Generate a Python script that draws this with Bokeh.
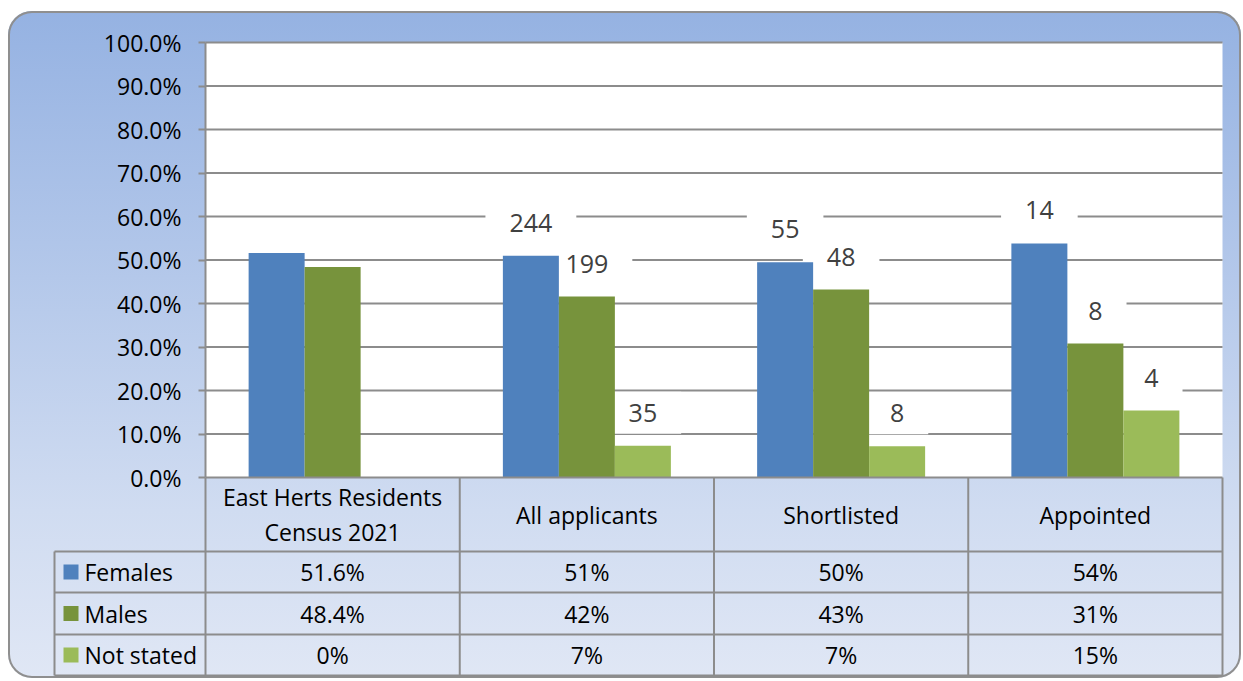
from bokeh.plotting import figure
from bokeh.models import Range1d, LinearAxis, FixedTicker, PrintfTickFormatter
from bokeh.core.properties import value
from bokeh.embed import file_html
from bokeh.resources import INLINE

# ---------------- data ----------------
categories = ["East Herts Residents\nCensus 2021", "All applicants", "Shortlisted", "Appointed"]
series_names = ["Females", "Males", "Not stated"]
females_pct = [51.6, 51.0, 49.5, 53.8]
males_pct = [48.4, 41.6, 43.2, 30.8]
not_stated_pct = [0.0, 7.3, 7.2, 15.4]
females_count = ["", "244", "55", "14"]
males_count = ["", "199", "48", "8"]
not_stated_count = ["", "35", "8", "4"]
females_table = ["51.6%", "51%", "50%", "54%"]
males_table = ["48.4%", "42%", "43%", "31%"]
not_stated_table = ["0%", "7%", "7%", "15%"]
y_ticks = [0, 10, 20, 30, 40, 50, 60, 70, 80, 90, 100]
colors = ["#4F81BD", "#77933C", "#9BBB59"]

# ---------------- layout (pixels in the page) ----------------
OX, OY = 8, 11          # top-left corner of the chart box
W, H = 1233, 667
PL, PR, PT, PB = 205, 1222, 42, 477
TABLE_L = 54
ROW_LINES = [551, 592, 634, 675]
GRID = "#8c8c8c"
FONT = value("Open Sans")

n = len(categories)
ppx = (PR - PL) / n
ppy = (PB - PT) / 100.0


def px_to_x(px):
    return -0.5 + (px - PL) / ppx


def px_to_y(py):
    return (PB - py) / ppy


p = figure(width=W, height=H,
           x_range=Range1d(px_to_x(OX), px_to_x(OX + W)),
           y_range=Range1d(px_to_y(OY + H), px_to_y(OY)),
           output_backend="svg", toolbar_location=None,
           x_axis_location=None, y_axis_location=None,
           min_border=0, border_fill_alpha=0, background_fill_alpha=0,
           outline_line_color=None)
p.grid.visible = False
p.styles = {
    "margin-left": f"{OX}px",
    "margin-top": f"{OY}px",
    "background": "linear-gradient(180deg, #95B2E2 0%, #B4C8EA 40%, #D0DCF1 75%, #E0E7F5 100%)",
    "border-radius": "24px",
    "box-shadow": "inset 0 0 0 2px #8f8f8f",
}

# plot area
p.quad(left=[px_to_x(PL)], right=[px_to_x(PR)], bottom=[0], top=[100],
       fill_color="white", line_color=None)
# gridlines
gt = y_ticks[1:]
p.segment(x0=[px_to_x(PL)] * len(gt), x1=[px_to_x(PR)] * len(gt), y0=gt, y1=gt,
          line_color=GRID, line_width=2)

# y axis
yax = LinearAxis(fixed_location=px_to_x(PL), bounds=(0, 100),
                 ticker=FixedTicker(ticks=y_ticks),
                 formatter=PrintfTickFormatter(format="%.1f%%"),
                 axis_line_color=GRID, axis_line_width=2,
                 major_tick_line_color=GRID, major_tick_line_width=2,
                 major_tick_out=7, major_tick_in=0, minor_tick_line_color=None,
                 major_label_text_font="Open Sans", major_label_text_font_size="23px",
                 major_label_text_color="black", major_label_standoff=17)
p.add_layout(yax, "left")

bw = 56 / ppx
series = [females_pct, males_pct, not_stated_pct]
counts = [females_count, males_count, not_stated_count]

# data labels (white boxes sit under the bars, above the gridlines)
for s, (vals, cnt) in enumerate(zip(series, counts)):
    xs = [k + (s - 1) * bw for k in range(n) if cnt[k] != ""]
    ys = [vals[k] for k in range(n) if cnt[k] != ""]
    tx = [cnt[k] for k in range(n) if cnt[k] != ""]
    p.text(x=xs, y=ys, text=tx, y_offset=-33, text_align="center",
           text_baseline="middle", text_font=FONT, text_font_size="25px",
           text_color="#404040", background_fill_color="white",
           padding=dict(left=24, right=24, top=12, bottom=12))

# bars
for s, (vals, col) in enumerate(zip(series, colors)):
    xs = [k + (s - 1) * bw for k in range(n)]
    p.vbar(x=xs, top=vals, width=bw, bottom=0, fill_color=col, line_color=None)

# table lines
y0 = 0
ybot = px_to_y(ROW_LINES[-1])
p.segment(x0=[px_to_x(PL)], x1=[px_to_x(PR)], y0=[y0], y1=[y0], line_color=GRID, line_width=2)
rl = [px_to_y(r) for r in ROW_LINES]
p.segment(x0=[px_to_x(TABLE_L)] * len(rl), x1=[px_to_x(PR)] * len(rl), y0=rl, y1=rl,
          line_color=GRID, line_width=2)
bx = [k - 0.5 for k in range(n + 1)]
p.segment(x0=bx, x1=bx, y0=[y0] * len(bx), y1=[ybot] * len(bx), line_color=GRID, line_width=2)
p.segment(x0=[px_to_x(TABLE_L)], x1=[px_to_x(TABLE_L)], y0=[rl[0]], y1=[ybot],
          line_color=GRID, line_width=2)

# category headers
p.text(x=list(range(n)), y=[px_to_y((PB + ROW_LINES[0]) / 2)] * n, text=categories,
       text_align="center", text_baseline="middle", text_font=FONT,
       text_font_size="23px", text_color="black", text_line_height=1.12)

# table rows
tables = [females_table, males_table, not_stated_table]
for r, (name, tbl, col) in enumerate(zip(series_names, tables, colors)):
    yc = px_to_y((ROW_LINES[r] + ROW_LINES[r + 1]) / 2)
    p.text(x=list(range(n)), y=[yc] * n, text=tbl, text_align="center",
           text_baseline="middle", text_font=FONT, text_font_size="23px",
           text_color="black")
    p.scatter(x=[px_to_x(70.5)], y=[yc], marker="square", size=15,
              fill_color=col, line_color=None)
    p.text(x=[px_to_x(84)], y=[yc], text=[name], text_align="left",
           text_baseline="middle", text_font=FONT, text_font_size="23px",
           text_color="black")

open("out.html", "w").write(file_html(p, INLINE))
